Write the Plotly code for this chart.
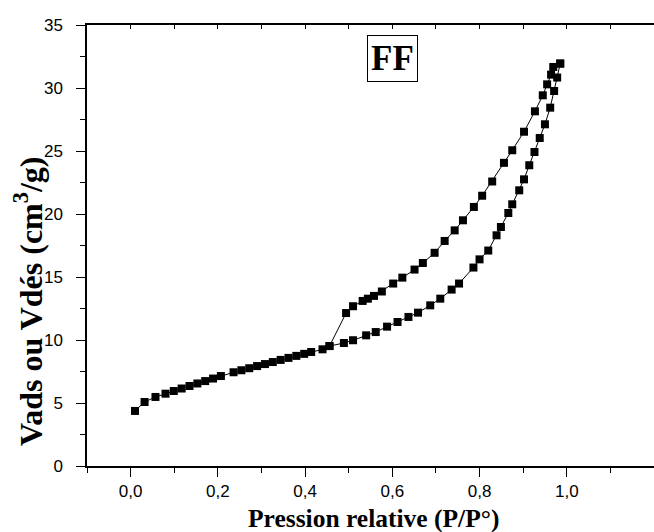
import plotly.graph_objects as go

# Adsorption branch (P/P0, volume adsorbed in cm3/g)
p_ads = [0.010, 0.032, 0.057, 0.080, 0.099, 0.117, 0.135, 0.153, 0.171, 0.189,
         0.207, 0.236, 0.254, 0.272, 0.290, 0.308, 0.326, 0.344, 0.362, 0.380,
         0.398, 0.414, 0.440, 0.456, 0.489, 0.510, 0.540, 0.562, 0.588, 0.612,
         0.637, 0.659, 0.687, 0.710, 0.736, 0.753, 0.786, 0.800, 0.820, 0.839,
         0.849, 0.866, 0.875, 0.891, 0.902, 0.914, 0.926, 0.938, 0.950, 0.962,
         0.971, 0.978, 0.985]
v_ads = [4.37, 5.08, 5.48, 5.74, 5.95, 6.15, 6.35, 6.55, 6.74, 6.94,
         7.14, 7.44, 7.60, 7.76, 7.93, 8.09, 8.25, 8.42, 8.58, 8.74,
         8.90, 9.05, 9.26, 9.52, 9.76, 9.98, 10.37, 10.63, 11.06, 11.43,
         11.83, 12.17, 12.75, 13.28, 14.00, 14.48, 15.75, 16.40, 17.10, 18.31,
         18.97, 20.08, 20.77, 21.88, 22.75, 23.87, 24.92, 26.03, 27.12, 28.44,
         29.76, 30.83, 31.94]

# Desorption branch (from high to low relative pressure)
p_des = [0.985, 0.969, 0.964, 0.955, 0.945, 0.927, 0.902, 0.875, 0.856, 0.829,
         0.806, 0.787, 0.762, 0.743, 0.720, 0.697, 0.670, 0.651, 0.623, 0.602,
         0.576, 0.558, 0.544, 0.532, 0.510, 0.494, 0.456]
v_des = [31.94, 31.67, 31.06, 30.29, 29.42, 28.15, 26.53, 25.06, 24.06, 22.58,
         21.45, 20.56, 19.50, 18.70, 17.86, 16.92, 16.11, 15.59, 14.95, 14.48,
         13.85, 13.50, 13.28, 13.10, 12.68, 12.14, 9.52]

x_tickvals = [0.0, 0.2, 0.4, 0.6, 0.8, 1.0]
x_ticktext = ["0,0", "0,2", "0,4", "0,6", "0,8", "1,0"]
y_tickvals = [0, 5, 10, 15, 20, 25, 30, 35]
x_range = [-0.1, 1.2]

marker = dict(symbol="square", size=8, color="black", line=dict(width=0))
line = dict(color="black", width=1)

fig = go.Figure()
fig.add_trace(go.Scatter(x=p_ads, y=v_ads, mode="lines+markers",
                         marker=marker, line=line, showlegend=False))
fig.add_trace(go.Scatter(x=p_des, y=v_des, mode="lines+markers",
                         marker=marker, line=line, showlegend=False))
# invisible trace to activate the top axis
fig.add_trace(go.Scatter(x=[0.5], y=[0], xaxis="x2", mode="markers",
                         marker=dict(opacity=0), showlegend=False, hoverinfo="skip"))

tick_font = dict(family="Liberation Sans, Arial", size=17, color="black")
title_font = "Liberation Serif, Times New Roman"

fig.update_layout(
    width=654, height=532,
    margin=dict(l=87, r=0, t=25, b=66),
    paper_bgcolor="white", plot_bgcolor="white",
    xaxis=dict(range=x_range, tickvals=x_tickvals, ticktext=x_ticktext,
               ticks="outside", ticklen=9, tickwidth=1.3, tickcolor="black",
               minor=dict(dtick=0.1, tick0=0, ticks="outside", ticklen=5,
                          tickwidth=1.3, tickcolor="black"),
               showline=True, linecolor="black", linewidth=1.5,
               showgrid=False, zeroline=False, tickfont=tick_font),
    xaxis2=dict(range=x_range, overlaying="x", side="top",
                tickmode="linear", tick0=0, dtick=0.1, ticks="inside",
                ticklen=4, tickwidth=1.3, tickcolor="black",
                showticklabels=False, showline=True, linecolor="black",
                linewidth=1.5, showgrid=False, zeroline=False),
    yaxis=dict(range=[0, 35], tickvals=y_tickvals,
               ticks="outside", ticklen=9, tickwidth=1.3, tickcolor="black",
               minor=dict(dtick=2.5, tick0=0, ticks="outside", ticklen=5,
                          tickwidth=1.3, tickcolor="black"),
               ticklabelstandoff=10,
               showline=True, linecolor="black", linewidth=1.5,
               showgrid=False, zeroline=False, tickfont=tick_font),
    annotations=[
        dict(text="<b>FF</b>", xref="x", yref="y", x=0.6, y=32.35,
             showarrow=False, bordercolor="black", borderwidth=1, borderpad=3,
             bgcolor="white",
             font=dict(family=title_font, size=35, color="black")),
        dict(text="<b>Pression relative (P/P°)</b>", xref="paper", yref="paper",
             x=0.506, y=-0.119, showarrow=False, xanchor="center", yanchor="middle",
             font=dict(family=title_font, size=25.5, color="black")),
        dict(text="<b>Vads ou Vdés (cm<sup>3</sup>/g)</b>", xref="paper", yref="paper",
             x=-0.104, y=0.372, showarrow=False, textangle=-90,
             xanchor="center", yanchor="middle",
             font=dict(family=title_font, size=32, color="black")),
    ],
)

fig.write_html("out.html")
